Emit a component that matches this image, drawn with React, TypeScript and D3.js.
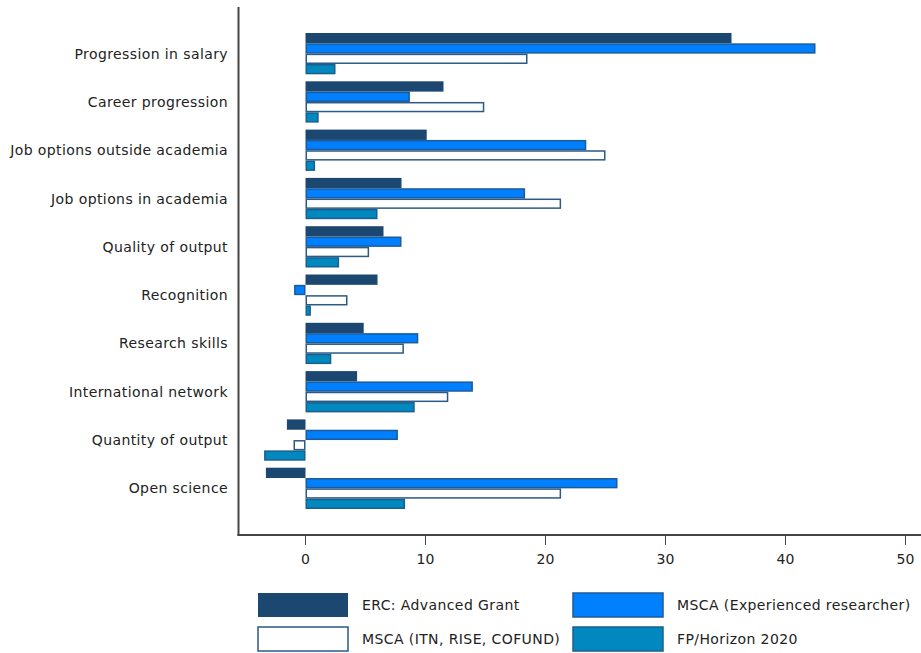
import React from "react";
import * as d3 from "d3";

const categories = [
  "Progression in salary",
  "Career progression",
  "Job options outside academia",
  "Job options in academia",
  "Quality of output",
  "Recognition",
  "Research skills",
  "International network",
  "Quantity of output",
  "Open science",
];

const seriesNames = [
  "ERC: Advanced Grant",
  "MSCA (Experienced researcher)",
  "MSCA (ITN, RISE, COFUND)",
  "FP/Horizon 2020",
];

const ercValues = [35.5, 11.5, 10.1, 8.0, 6.5, 6.0, 4.85, 4.3, -1.55, -3.3];
const mscaExpValues = [42.5, 8.7, 23.4, 18.3, 8.0, -0.95, 9.4, 13.95, 7.7, 26.0];
const mscaItnValues = [18.5, 14.9, 25.0, 21.3, 5.3, 3.5, 8.2, 11.9, -1.0, 21.3];
const fpValues = [2.5, 1.1, 0.8, 6.0, 2.8, 0.45, 2.15, 9.1, -3.45, 8.3];

const xTicks = [0, 10, 20, 30, 40, 50];

const seriesValues = [ercValues, mscaExpValues, mscaItnValues, fpValues];
const fills = ["#1c4770", "#0080ff", "#ffffff", "#0088bf"];
const strokes = ["none", "#1c5a98", "#2b5a86", "#1a5f8e"];

const FONT = "'DejaVu Sans', sans-serif";

export default function App() {
  const width = 921;
  const height = 653;
  const x = d3.scaleLinear().domain([0, 50]).range([305.5, 905.5]);
  const y = d3.scaleBand<string>().domain(categories).range([26, 516]).padding(0.145);
  const inner = d3
    .scaleBand<string>()
    .domain(seriesNames)
    .range([0, y.bandwidth()])
    .padding(0);

  const axisLeftX = 238.5;
  const axisBottomY = 535;

  const legendItems = [
    { name: seriesNames[0], bx: 258, by: 593 },
    { name: seriesNames[1], bx: 573, by: 593 },
    { name: seriesNames[2], bx: 258, by: 627 },
    { name: seriesNames[3], bx: 573, by: 627 },
  ];

  return (
    <svg
      width={width}
      height={height}
      style={{ position: "absolute", left: 0, top: 0, background: "#fff" }}
      fontFamily={FONT}
    >
      {categories.map((c, ci) => (
        <g key={c}>
          {seriesNames.map((s, si) => {
            const v = seriesValues[si][ci];
            const x0 = x(Math.min(0, v));
            const x1 = x(Math.max(0, v));
            const yy = (y(c) as number) + (inner(s) as number);
            const hasStroke = strokes[si] !== "none";
            const inset = hasStroke ? 0.75 : 0;
            return (
              <rect
                key={s}
                x={x0 + inset}
                y={yy + inset}
                width={Math.max(0, x1 - x0 - 2 * inset)}
                height={inner.bandwidth() - 2 * inset}
                fill={fills[si]}
                stroke={strokes[si]}
                strokeWidth={hasStroke ? 1.5 : 0}
              />
            );
          })}
          <text
            x={228}
            y={(y(c) as number) + y.bandwidth() / 2}
            textAnchor="end"
            dominantBaseline="central"
            fontSize={14}
            letterSpacing={0.4}
            fill="#222"
          >
            {c}
          </text>
        </g>
      ))}

      <line x1={axisLeftX} x2={axisLeftX} y1={7} y2={axisBottomY + 1} stroke="#444" strokeWidth={2} />
      <line x1={axisLeftX - 1} x2={921} y1={axisBottomY} y2={axisBottomY} stroke="#444" strokeWidth={2} />
      {xTicks.map((t) => (
        <g key={t}>
          <line x1={x(t)} x2={x(t)} y1={axisBottomY} y2={axisBottomY + 10} stroke="#444" strokeWidth={1} />
          <text x={x(t)} y={axisBottomY + 24} textAnchor="middle" dominantBaseline="central" fontSize={14} fill="#222">
            {t}
          </text>
        </g>
      ))}

      {legendItems.map((it) => {
        const si = seriesNames.indexOf(it.name);
        const hasStroke = strokes[si] !== "none";
        return (
          <g key={it.name}>
            <rect
              x={it.bx}
              y={it.by}
              width={90}
              height={24}
              fill={fills[si]}
              stroke={hasStroke ? strokes[si] : "none"}
              strokeWidth={hasStroke ? 1.5 : 0}
            />
            <text
              x={it.bx + 104}
              y={it.by + 12}
              dominantBaseline="central"
              fontSize={14}
              letterSpacing={0.4}
              fill="#222"
            >
              {it.name}
            </text>
          </g>
        );
      })}
    </svg>
  );
}
